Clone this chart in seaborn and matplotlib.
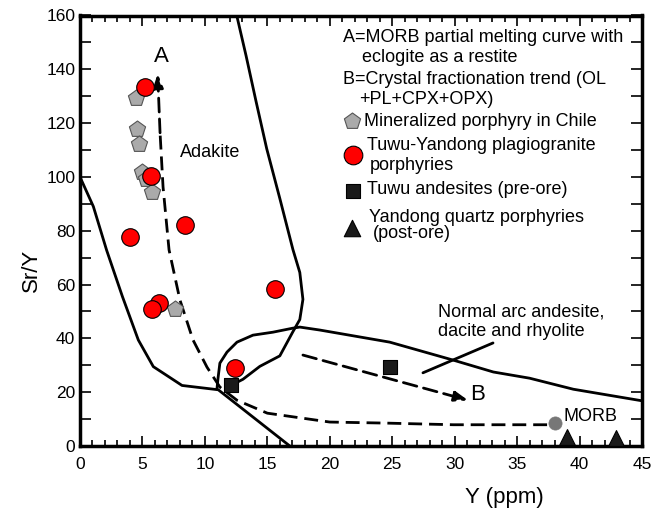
import numpy as np
import matplotlib
matplotlib.use("Agg")
import matplotlib.pyplot as plt
import seaborn as sns

# sample data (Y ppm, Sr/Y)
chile_y = [4.5, 4.6, 4.7, 5.0, 5.3, 5.8, 7.6]
chile_sry = [129.5, 118.0, 112.3, 102.0, 99.3, 94.3, 51.0]

tuwu_y = [5.2, 5.7, 4.0, 8.4, 6.3, 5.8, 15.6, 12.4]
tuwu_sry = [133.5, 100.5, 77.5, 82.0, 53.3, 51.0, 58.5, 29.0]

andes_y = [12.1, 24.8]
andes_sry = [22.5, 29.5]

qp_y = [39.0, 42.9]
qp_sry = [3.3, 3.1]

morb_y = [38.0]
morb_sry = [8.5]

# field boundaries
adakite_right_x = [12.55, 13.3, 14.1, 14.95, 16.0, 17.05, 17.6, 17.85, 17.6, 17.05, 16.0, 14.4, 13.05, 12.5]
adakite_right_y = [160, 145, 128, 110.5, 92, 73, 64.5, 54.5, 47.0, 42.5, 33.5, 29.6, 24.8, 23.5]

left_bound_x = [0, 1.07, 2.13, 3.4, 4.67, 5.87, 8.17, 11.07, 16.8]
left_bound_y = [100, 89.0, 72.8, 55.5, 39.4, 29.5, 22.5, 20.9, 0]

arc_top_x = [10.97, 11.05, 11.2, 11.77, 12.57, 13.85, 15.45, 17.05, 17.6, 19.2, 24.8, 29.9, 33.1, 36.0, 39.5, 45.0]
arc_top_y = [21.4, 25.1, 30.8, 34.9, 38.6, 41.2, 42.3, 43.8, 44.2, 43.1, 38.6, 31.9, 27.5, 25.2, 21.1, 16.8]

# trend A (MORB partial melting) and trend B (fractionation)
trend_a_x = [37.4, 35.2, 29.9, 24.6, 20.0, 15.0, 12.57, 11.2, 10.17, 9.05, 8.0, 7.13, 6.65, 6.41, 6.22]
trend_a_y = [7.9, 7.9, 7.9, 8.5, 8.9, 12.2, 17.0, 21.9, 29.3, 39.4, 54.3, 72.9, 96.3, 116.4, 138.3]

trend_b_x = [17.85, 31.07]
trend_b_y = [33.8, 17.0]

sns.set_style("ticks")
plt.rcParams["font.family"] = ["Liberation Sans", "DejaVu Sans"]
plt.rcParams["text.color"] = "black"
plt.rcParams["axes.labelcolor"] = "black"

fig = plt.figure(figsize=(6.52, 5.13), dpi=100)
ax = fig.add_axes([80 / 652, 67 / 513, 562 / 652, 430.5 / 513])

dash = (0, (5, 2.5))
head = "-|>,head_length=0.8,head_width=0.3"

# fields
ax.plot(adakite_right_x, adakite_right_y, color="black", lw=2, zorder=2)
ax.plot(left_bound_x, left_bound_y, color="black", lw=2, zorder=2)
ax.plot(arc_top_x, arc_top_y, color="black", lw=2, zorder=2)

# trends
ax.plot(trend_a_x[:-1], trend_a_y[:-1], color="black", lw=2, ls=dash, zorder=2)
ax.annotate("", xy=(trend_a_x[-1], trend_a_y[-1]), xytext=(trend_a_x[-2], trend_a_y[-2]),
            arrowprops=dict(arrowstyle=head, color="black", lw=2, ls=dash,
                            shrinkA=0, shrinkB=0), zorder=2)
ax.annotate("", xy=(trend_b_x[1], trend_b_y[1]), xytext=(trend_b_x[0], trend_b_y[0]),
            arrowprops=dict(arrowstyle=head, color="black", lw=2, ls=dash,
                            shrinkA=0, shrinkB=0), zorder=2)

# pointer for the normal arc field label
ax.plot([33.07, 27.46], [38.3, 27.2], color="black", lw=2, zorder=2)

# samples
sns.scatterplot(x=chile_y, y=chile_sry, marker="p", s=150, color="#aaaaaa",
                edgecolor="#555555", linewidth=0.8, ax=ax, zorder=4)
sns.scatterplot(x=tuwu_y, y=tuwu_sry, marker="o", s=160, color="#ff0000",
                edgecolor="black", linewidth=0.8, ax=ax, zorder=5)
sns.scatterplot(x=andes_y, y=andes_sry, marker="s", s=110, color="#1a1a1a",
                edgecolor="black", linewidth=0.8, ax=ax, zorder=5)
sns.scatterplot(x=qp_y, y=qp_sry, marker="^", s=130, color="#1a1a1a",
                edgecolor="black", linewidth=0.8, ax=ax, zorder=5)
sns.scatterplot(x=morb_y, y=morb_sry, marker="o", s=90, color="#777777",
                edgecolor="#777777", linewidth=0.5, ax=ax, zorder=5)

# labels in the plot
fs = 13
ax.text(8.0, 108.9, "Adakite", fontsize=fs, va="center", ha="left")
ax.text(6.5, 144.6, "A", fontsize=16, va="center", ha="center")
ax.text(31.2, 19.0, "B", fontsize=16, va="center", ha="left")
ax.text(38.75, 10.8, "MORB", fontsize=fs, va="center", ha="left")
ax.text(28.66, 49.8, "Normal arc andesite,", fontsize=fs, va="center", ha="left")
ax.text(28.66, 42.4, "dacite and rhyolite", fontsize=fs, va="center", ha="left")

# legend (manual layout, axes fraction)
def fx(px):
    return (px - 80) / 562

def fy(py):
    return (446 - py) / 430.5

lg = 13
legend_lines = [
    (343, 37, "A=MORB partial melting curve with"),
    (362, 57, "eclogite as a restite"),
    (343, 80, "B=Crystal fractionation trend (OL"),
    (359, 100, "+PL+CPX+OPX)"),
    (364, 121, "Mineralized porphyry in Chile"),
    (367, 146, "Tuwu-Yandong plagiogranite"),
    (370, 166, "porphyries"),
    (367, 190, "Tuwu andesites (pre-ore)"),
    (369, 217, "Yandong quartz porphyries"),
    (373, 233, "(post-ore)"),
]
for px, py, txt in legend_lines:
    ax.text(fx(px), fy(py), txt, fontsize=lg, va="center", ha="left", transform=ax.transAxes)

ax.scatter([fx(352)], [fy(121)], marker="p", s=150, color="#aaaaaa", edgecolor="#555555",
           linewidth=0.8, transform=ax.transAxes, clip_on=False, zorder=5)
ax.scatter([fx(353)], [fy(155)], marker="o", s=180, color="#ff0000", edgecolor="black",
           linewidth=0.8, transform=ax.transAxes, clip_on=False, zorder=5)
ax.scatter([fx(353)], [fy(191)], marker="s", s=110, color="#1a1a1a", edgecolor="black",
           linewidth=0.8, transform=ax.transAxes, clip_on=False, zorder=5)
ax.scatter([fx(352)], [fy(228)], marker="^", s=140, color="#1a1a1a", edgecolor="black",
           linewidth=0.8, transform=ax.transAxes, clip_on=False, zorder=5)

# axes
ax.set_xlim(0, 45)
ax.set_ylim(0, 160)
ax.set_xticks(np.arange(0, 46, 5))
ax.set_xticks(np.arange(0, 46, 1), minor=True)
ax.set_yticks(np.arange(0, 161, 20))
ax.set_yticks(np.arange(0, 161, 10), minor=True)
ax.tick_params(axis="both", which="both", direction="in", top=True, right=True,
               labelsize=12.5, width=1.2, colors="black")
ax.tick_params(axis="x", which="major", length=7, pad=8)
ax.tick_params(axis="x", which="minor", length=4)
ax.tick_params(axis="y", which="both", length=8)
for s in ax.spines.values():
    s.set_linewidth(2.5)
    s.set_color("black")

ax.set_xlabel("Y (ppm)", fontsize=16, va="center")
ax.set_ylabel("Sr/Y", fontsize=16, va="center")
ax.xaxis.set_label_coords(fx(504), fy(497))
ax.yaxis.set_label_coords(fx(31), fy(270))

fig.savefig("out.png", dpi=100)
